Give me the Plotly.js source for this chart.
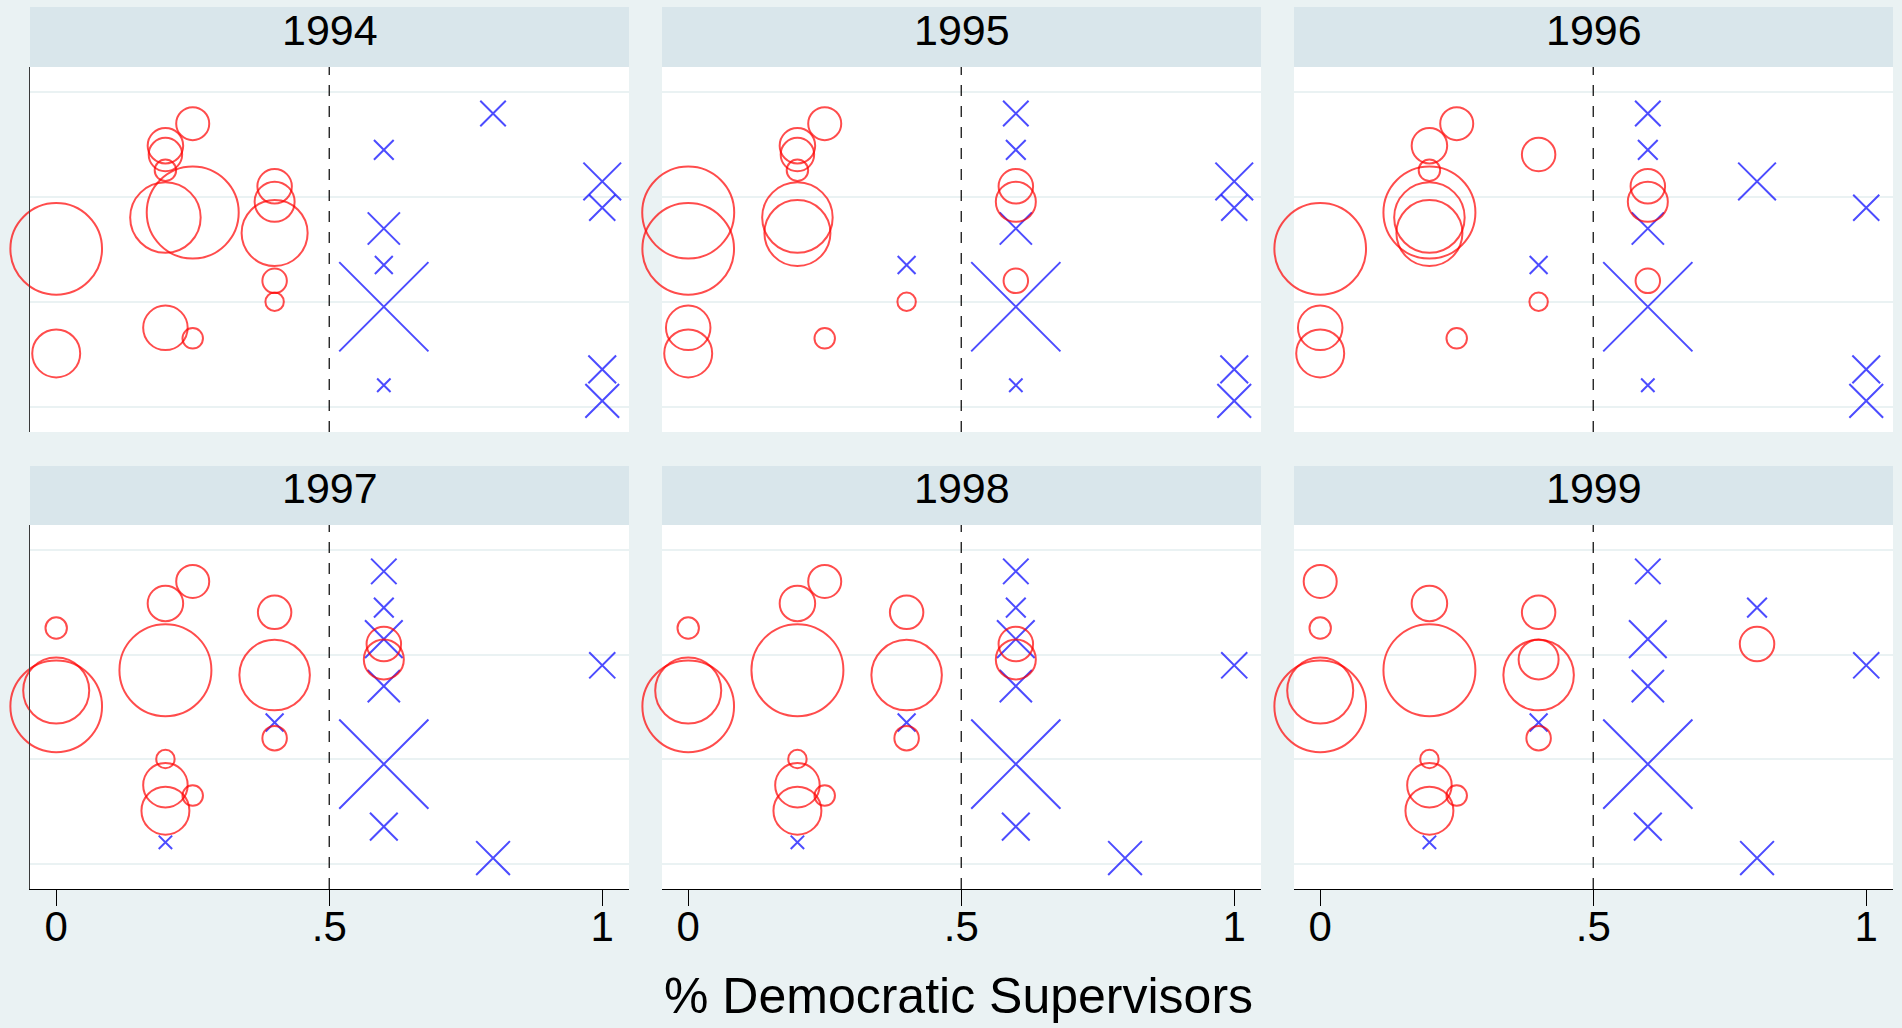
<!DOCTYPE html>
<html>
<head>
<meta charset="utf-8">
<script src="https://cdn.plot.ly/plotly-3.0.1.min.js"></script>
<style>
  html, body { margin: 0; padding: 0; background: #EAF2F3; }
  #chart { width: 1902px; height: 1028px; }
</style>
</head>
<body>
<div id="chart"></div>
<script>
// ---------------- DATA ----------------
const years = ['1994', '1995', '1996', '1997', '1998', '1999'];
const xTickVals = [0, 0.5, 1];
const xTickText = ['0', '.5', '1'];
const xAxisTitle = '% Democratic Supervisors';
const cutoff = 0.5;

// Red (circle) units: vertical position and weight
const redY      = [1.506, 0.509, 2.49, 2.405, 2.255, 1.805, 0.753, 2.70, 1.852, 0.653, 2.102, 1.955, 1.657, 1.202, 1.002];
const redWeight = [84, 23, 12.6, 11.2, 4.6, 49.7, 19.8, 10.9, 84.6, 4.2, 11.9, 16.0, 43.6, 6.0, 3.4];
// Red units: % Democratic supervisors by year
const redX1994 = [0, 0, 0.2, 0.2, 0.2, 0.2, 0.2, 0.25, 0.25, 0.25, 0.4, 0.4, 0.4, 0.4, 0.4];
const redX1995 = [0, 0, 0.2, 0.2, 0.2, 0.2, 0, 0.25, 0, 0.25, 0.6, 0.6, 0.2, 0.6, 0.4];
const redX1996 = [0, 0, 0.2, 0.4, 0.2, 0.2, 0, 0.25, 0.2, 0.25, 0.6, 0.6, 0.2, 0.6, 0.4];
const redX1997 = [0, 0.2, 0.2, 0.4, 0, 0.4, 0.2, 0.25, 0.2, 0.25, 0.6, 0.6, 0, 0.4, 0.2];
const redX1998 = [0, 0.2, 0.2, 0.4, 0, 0.4, 0.2, 0.25, 0.2, 0.25, 0.6, 0.6, 0, 0.4, 0.2];
const redX1999 = [0, 0.2, 0.2, 0.4, 0, 0.4, 0.2, 0, 0.2, 0.25, 0.8, 0.4, 0, 0.4, 0.2];

// Blue (X) units: vertical position and weight
const blueY      = [2.797, 2.45, 1.70, 1.352, 0.954, 0.206, 2.149, 1.898, 0.357, 0.056];
const blueWeight = [6.5, 3.9, 10.4, 3.2, 79.6, 1.8, 14.2, 6.8, 7.7, 11.4];
// Blue units: % Democratic supervisors by year
const blueX1994 = [0.8, 0.6, 0.6, 0.6, 0.6, 0.6, 1, 1, 1, 1];
const blueX1995 = [0.6, 0.6, 0.6, 0.4, 0.6, 0.6, 1, 1, 1, 1];
const blueX1996 = [0.6, 0.6, 0.6, 0.4, 0.6, 0.6, 0.8, 1, 1, 1];
const blueX1997 = [0.6, 0.6, 0.6, 0.4, 0.6, 0.2, 0.6, 1, 0.6, 0.8];
const blueX1998 = [0.6, 0.6, 0.6, 0.4, 0.6, 0.2, 0.6, 1, 0.6, 0.8];
const blueX1999 = [0.6, 0.8, 0.6, 0.4, 0.6, 0.2, 0.6, 1, 0.6, 0.8];

const redXByYear  = [redX1994, redX1995, redX1996, redX1997, redX1998, redX1999];
const blueXByYear = [blueX1994, blueX1995, blueX1996, blueX1997, blueX1998, blueX1999];

// ---------------- LAYOUT GEOMETRY ----------------
const W = 1902, H = 1028;
const colPx = [[30, 629], [662, 1261], [1294, 1893]];
const rowPx = [[67, 432], [525, 889]];
const FONT = 'Liberation Sans, Arial, Helvetica, sans-serif';
const BG = '#EAF2F3';
const STRIP = '#D9E6EB';
const GRID = '#EAF2F3';

const traces = [];
const layout = {
  width: W, height: H,
  margin: {l: 0, r: 0, t: 0, b: 0, pad: 0},
  paper_bgcolor: BG,
  plot_bgcolor: '#FFFFFF',
  showlegend: false,
  font: {family: FONT, color: '#000'},
  shapes: [],
  annotations: []
};

years.forEach((yr, i) => {
  const row = Math.floor(i / 3), col = i % 3;
  const sfx = i === 0 ? '' : String(i + 1);
  const xa = 'x' + sfx, ya = 'y' + sfx;

  traces.push({
    type: 'scatter', mode: 'markers', xaxis: xa, yaxis: ya,
    x: blueXByYear[i], y: blueY, hoverinfo: 'skip', cliponaxis: false,
    marker: {
      symbol: 'x-thin-open', color: '#0000FF',
      size: blueWeight, sizemode: 'area', sizeref: 0.02, sizemin: 0,
      line: {color: '#0000FF', width: 2}
    }
  });
  traces.push({
    type: 'scatter', mode: 'markers', xaxis: xa, yaxis: ya,
    x: redXByYear[i], y: redY, hoverinfo: 'skip', cliponaxis: false,
    marker: {
      symbol: 'circle-open', color: '#FF0000',
      size: redWeight, sizemode: 'area', sizeref: 0.02, sizemin: 0,
      line: {color: '#FF0000', width: 2}
    }
  });

  const bottom = row === 1;
  layout['xaxis' + sfx] = {
    domain: [colPx[col][0] / W, colPx[col][1] / W],
    anchor: ya,
    range: [-0.048, 1.049],
    showgrid: false, zeroline: false,
    showline: bottom, linecolor: '#000', linewidth: 1,
    ticks: bottom ? 'outside' : '', ticklen: 16, tickwidth: 1, tickcolor: '#000',
    tickmode: 'array', tickvals: xTickVals, ticktext: xTickText,
    showticklabels: bottom, ticklabelstandoff: -15,
    tickfont: {family: FONT, size: 42, color: '#000'},
    fixedrange: true
  };
  layout['yaxis' + sfx] = {
    domain: [1 - rowPx[row][1] / H, 1 - rowPx[row][0] / H],
    anchor: xa,
    range: [-0.24, 3.24],
    tickmode: 'array', tickvals: [0, 1, 2, 3],
    showticklabels: false, ticks: '',
    showgrid: true, gridcolor: GRID, gridwidth: 2,
    zeroline: false,
    showline: col === 0, linecolor: '#3A3A3A', linewidth: 1,
    fixedrange: true
  };

  const plotH = rowPx[row][1] - rowPx[row][0];
  const stripH = row === 0 ? 60 : 59;
  // strip band
  layout.shapes.push({
    type: 'rect', xref: xa + ' domain', yref: ya + ' domain',
    x0: 0, x1: 1, y0: 1, y1: 1 + stripH / plotH,
    fillcolor: STRIP, line: {width: 0}, layer: 'above'
  });
  // cutoff line
  layout.shapes.push({
    type: 'line', xref: xa, yref: ya + ' domain',
    x0: cutoff, x1: cutoff, y0: 0, y1: 1,
    line: {color: '#000', width: 1.2, dash: '11px,10px'}, layer: 'above'
  });
  // strip title
  layout.annotations.push({
    text: yr, xref: xa + ' domain', yref: ya + ' domain',
    x: 0.5, y: 1 + 37 / plotH, xanchor: 'center', yanchor: 'middle',
    showarrow: false, font: {family: FONT, size: 43, color: '#000'}
  });
});

layout.annotations.push({
  text: xAxisTitle, xref: 'paper', yref: 'paper',
  x: 958 / W, y: 1 - 995.5 / H, xanchor: 'center', yanchor: 'middle',
  showarrow: false, font: {family: FONT, size: 50, color: '#000'}
});

Plotly.newPlot('chart', traces, layout, {displayModeBar: false, staticPlot: true});
</script>
</body>
</html>
